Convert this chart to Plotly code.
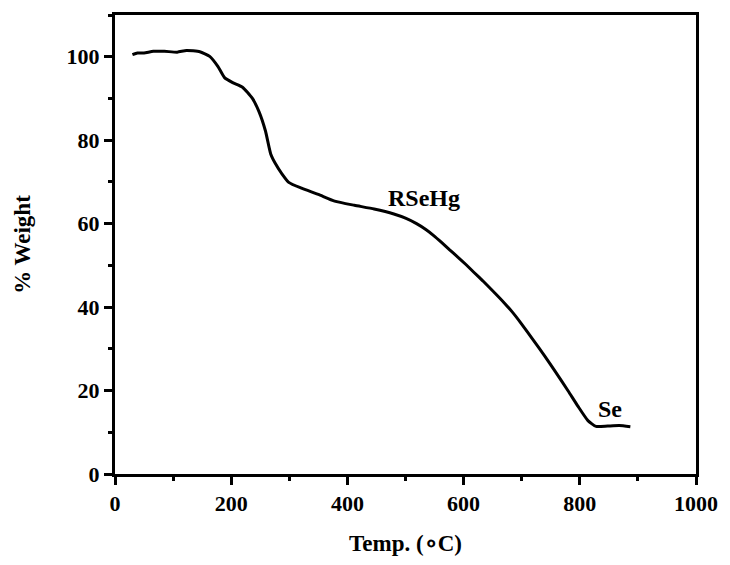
import plotly.graph_objects as go

# TGA curve of the RSeHg compound (temperature in °C, residual weight in %)
temp_c = [30, 38.5, 50, 66, 85, 107, 123, 146, 163, 177, 188.5, 202.5, 219.5,
          236.5, 248, 259, 268, 276, 287, 299, 321, 350, 378, 412, 446, 480,
          500, 519, 535, 548, 562, 576, 590, 604, 618, 633, 655, 670, 684,
          698, 720, 740, 757, 780, 797, 814, 828, 848, 868, 887]
weight_pct = [100.5, 100.9, 100.9, 101.3, 101.3, 101.1, 101.5, 101.2, 100.1,
              97.7, 95.0, 93.8, 92.7, 90.0, 86.8, 82.2, 76.7, 74.4, 72.0,
              69.9, 68.5, 67.0, 65.4, 64.4, 63.5, 62.3, 61.3, 60.0, 58.6,
              57.2, 55.5, 53.7, 52.0, 50.2, 48.3, 46.3, 43.2, 41.0, 38.8,
              36.3, 32.1, 28.2, 24.7, 19.9, 16.2, 12.8, 11.4, 11.5, 11.6, 11.3]

# Species labels placed on the curve
label_text = ["RSeHg", "Se"]
label_x = [531, 852]
label_y = [66.2, 15.6]

x_ticks = [0, 200, 400, 600, 800, 1000]
y_ticks = [0, 20, 40, 60, 80, 100]

serif = "Liberation Serif, Times New Roman, serif"

fig = go.Figure()
fig.add_trace(go.Scatter(
    x=temp_c, y=weight_pct, mode="lines",
    line=dict(color="black", width=3, shape="spline", smoothing=0.5),
    showlegend=False, hoverinfo="skip",
))

for t, lx, ly in zip(label_text, label_x, label_y):
    fig.add_annotation(x=lx, y=ly, text=f"<b>{t}</b>", showarrow=False,
                       font=dict(family=serif, size=24, color="black"))

axis_common = dict(
    showgrid=False, zeroline=False,
    showline=True, linecolor="black", linewidth=3, mirror=True,
    ticks="outside", ticklen=8, tickwidth=3, tickcolor="black",
    tickfont=dict(family=serif, size=22, color="black"),
)

fig.update_xaxes(
    range=[0, 1000], tickvals=x_ticks,
    ticktext=[f"<b>{v}</b>" for v in x_ticks],
    minor=dict(ticks="outside", ticklen=4, tickwidth=3, tickcolor="black",
               dtick=100, tick0=0),
    title=dict(text="<b>Temp. (∘C)</b>", standoff=20,
               font=dict(family=serif, size=23, color="black")),
    **axis_common,
)
fig.update_yaxes(
    range=[0, 110], tickvals=y_ticks,
    ticktext=[f"<b>{v}</b>" for v in y_ticks],
    minor=dict(ticks="outside", ticklen=4, tickwidth=3, tickcolor="black",
               dtick=10, tick0=0),
    title=dict(text="<b>% Weight</b>", standoff=30,
               font=dict(family=serif, size=23, color="black")),
    **axis_common,
)

fig.update_layout(
    width=730, height=565,
    margin=dict(l=115, r=28, t=15, b=81),
    paper_bgcolor="white", plot_bgcolor="white",
)

fig.write_html("out.html")
